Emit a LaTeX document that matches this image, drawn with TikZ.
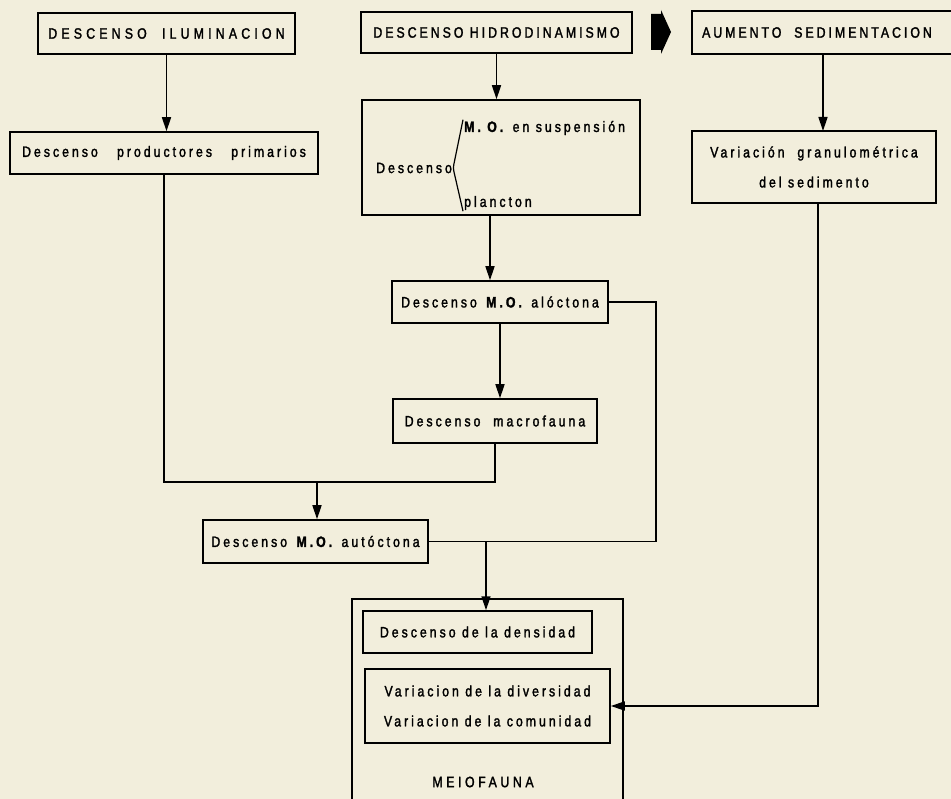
\documentclass[tikz,border=0pt]{standalone}
\usepackage{fontspec}
\setmainfont{Liberation Sans}[FakeStretch=0.82,LetterSpace=20,FakeBold=1.8]
\usetikzlibrary{arrows.meta}
\definecolor{paper}{HTML}{F2EEDC}
\begin{document}
\begin{tikzpicture}[x=1pt,y=-1pt,
  box/.style={draw, line width=1.5pt, inner sep=0pt, align=center, font=\fontsize{15}{30}\selectfont},
  txt/.style={inner sep=1pt, font=\fontsize{15}{18}\selectfont},
  ln/.style={line width=1.5pt},
  arr/.style={line width=1.5pt, -{Triangle[length=14pt,width=9pt]}}]
\fill[paper] (0,0) rectangle (951,799);
\useasboundingbox (0,0) rectangle (951,799);
% top row
\node[box, minimum width=257, minimum height=41, font=\fontsize{15}{18}\selectfont\addfontfeature{LetterSpace=28}] (b1) at (166.5,33.5) {DESCENSO\ \ ILUMINACION};
\node[box, minimum width=271, minimum height=41] (b2) at (496.5,32.5) {DESCENSO HIDRODINAMISMO};
\node[box, minimum width=266, minimum height=43] (b3) at (825,32.5) {};
\node[txt] (b3t) at (817,32.5) {AUMENTO\ \ SEDIMENTACION};
\fill (651,14) -- (661,14) -- (661,10) -- (671,32) -- (661,54) -- (661,50) -- (651,50) -- cycle;
% second row
\node[box, minimum width=308, minimum height=42] (prod) at (164,153) {Descenso\ \ \ productores\ \ \ primarios};
\node[box, minimum width=278, minimum height=115] (mid) at (501,157.5) {};
\node[txt, anchor=west] (desc) at (375,168) {Descenso};
\node[txt, anchor=west] (mo) at (463,128) {\textbf{M. O.}\ en suspensión};
\node[txt, anchor=west] (plan) at (463,203) {plancton};
\draw[line width=1.2pt, rounded corners=3pt] (mo.north west) -- (desc.east) -- (plan.south west);
\node[box, minimum width=244, minimum height=72] (var) at (814,167) {Variación\ \ granulométrica\\del sedimento};
% middle
\node[box, minimum width=216, minimum height=42] (alo) at (500,302) {Descenso \textbf{M.O.} alóctona};
\node[box, minimum width=204, minimum height=44] (mac) at (495,421) {Descenso\ \ macrofauna};
\node[box, minimum width=225, minimum height=43] (aut) at (315.5,541.5) {Descenso\ \textbf{M.O.} autóctona};
% meiofauna
\node[box, minimum width=271, minimum height=208] (meio) at (487.5,703) {};
\node[box, minimum width=229, minimum height=42] (den) at (477.5,632) {Descenso de la densidad};
\node[box, minimum width=245, minimum height=74] (div) at (487.5,706) {Variacion de la diversidad\\Variacion de la comunidad};
\node[txt, font=\fontsize{15}{18}\selectfont\addfontfeature{LetterSpace=24}] (mf) at (483,782) {MEIOFAUNA};
% connectors
\coordinate (k) at (490,0);
\coordinate (j1) at (317,482);
\coordinate (j2) at (656,541.5);
\coordinate (j3) at (486,541.5);
\coordinate (j4) at (818,706);
\draw[arr] (b1.south) -- (b1.south |- prod.north);
\draw[arr] (b2.south) -- (b2.south |- mid.north);
\draw[arr] (823,54) -- (823,131);
\draw[arr] (mid.south -| k) -- (alo.north -| k);
\draw[arr] (alo.south) -- (alo.south |- mac.north);
\draw[ln] (prod.south) |- (j1) -| (mac.south);
\draw[arr] (j1) -- (j1 |- aut.north);
\draw[ln] (alo.east) -| (j2) -- (aut.east);
\draw[arr] (j3) -- (j3 |- den.north);
\draw[arr] (var.south -| j4) -- (j4) -- (div.east);
\end{tikzpicture}
\end{document}
